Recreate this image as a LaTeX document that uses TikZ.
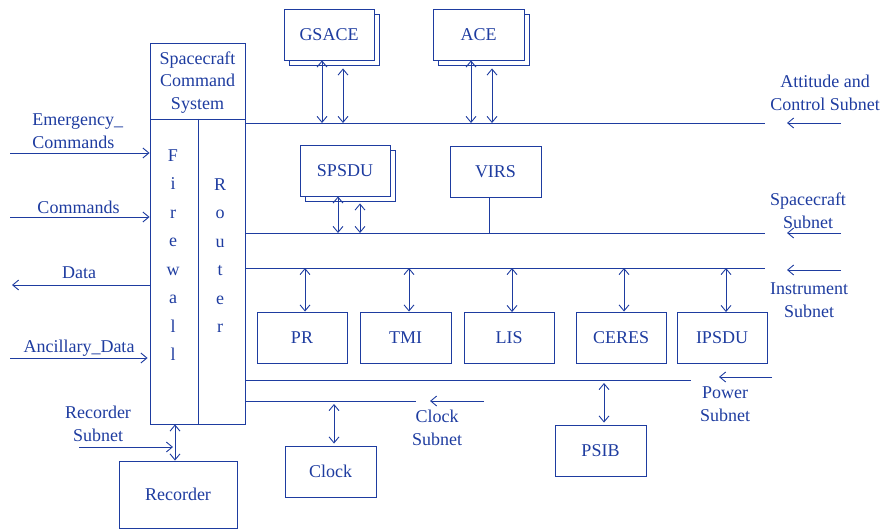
\documentclass[tikz,border=0pt]{standalone}
\usepackage{fontspec}
\setmainfont{Liberation Serif}
\usetikzlibrary{arrows.meta}
\definecolor{mblue}{RGB}{30,60,160}
\tikzset{
  >={Straight Barb[length=6pt,width=10pt]},
  txt/.style={text=mblue, font=\fontsize{18}{22.5}\selectfont, inner sep=0pt, align=center},
  box/.style={draw=mblue, line width=0.9pt, fill=white, text=mblue, font=\fontsize{18}{22.5}\selectfont, minimum width=90pt, minimum height=51pt, inner sep=0pt},
  letters/.style={text=mblue, font=\fontsize{18}{28.5}\selectfont, inner sep=0pt, align=center}
}
\begin{document}
\begin{tikzpicture}[x=1pt,y=-1pt,color=mblue,line width=0.9pt]
\useasboundingbox (0,0) rectangle (885,529);
% command system
\node[draw=mblue, line width=0.9pt, minimum width=95pt, minimum height=381pt, inner sep=0pt] (scs) at (197.5,233.5) {};
\coordinate (divL) at (150,119);
\coordinate (divR) at (245,119);
\coordinate (midT) at (198,119);
\coordinate (midB) at (198,424);
\draw (divL) -- (divR);
\draw (midT) -- (midB);
\node[txt] (scstitle) at (197.5,82.5) {Spacecraft\\Command\\System};
\node[letters] (fw) at (173,255) {F\\i\\r\\e\\w\\a\\l\\l};
\node[letters] (rt) at (220,255.5) {R\\o\\u\\t\\e\\r};

% left side inputs
\coordinate (emS) at (10,153);
\coordinate (cmS) at (10,217);
\coordinate (daE) at (12,285);
\coordinate (anS) at (10,358);
\draw[->] (emS) -- (emS -| scs.west);
\draw[->] (cmS) -- (cmS -| scs.west);
\draw[->] (daE -| scs.west) -- (daE);
\draw[->] (anS) -- ([xshift=-2pt]anS -| scs.west);
\node[txt, align=left, anchor=west] (emL) at (32,131) {Emergency\_\\Commands};
\node[txt] (cmL) at (78.5,207) {Commands};
\node[txt] (daL) at (79,273) {Data};
\node[txt] (anL) at (79,348) {Ancillary\_Data};

% recorder
\node[box, minimum width=118pt, minimum height=67pt] (rec) at (178,494.5) {Recorder};
\draw[<->] (scs.south -| 175,0) -- (rec.north -| 175,0);
\coordinate (recS) at (79,447);
\draw[->] (recS) -- (173,447);
\node[txt] (recL) at (98,424) {Recorder\\Subnet};

% buses
\coordinate (acA) at (245,123); \coordinate (acB) at (765,123);
\coordinate (scA) at (245,233); \coordinate (scB) at (765,233);
\coordinate (inA) at (245,268); \coordinate (inB) at (765,268);
\coordinate (pwA) at (245,380); \coordinate (pwB) at (691,380);
\coordinate (ckA) at (245,401); \coordinate (ckB) at (416,401);
\draw (acA) -- (acB);
\draw (scA) -- (scB);
\draw (inA) -- (inB);
\draw (pwA) -- (pwB);
\draw (ckA) -- (ckB);

% subnet incoming arrows
\coordinate (acIn) at (841,123); \coordinate (acTo) at (787,123);
\coordinate (scIn) at (841,233); \coordinate (scTo) at (787,233);
\coordinate (inIn) at (841,270); \coordinate (inTo) at (787,270);
\coordinate (pwIn) at (772,377); \coordinate (pwTo) at (719,377);
\coordinate (ckIn) at (484,401); \coordinate (ckTo) at (430,401);
\draw[->] (acIn) -- (acTo);
\draw[->] (scIn) -- (scTo);
\draw[->] (inIn) -- (inTo);
\draw[->] (pwIn) -- (pwTo);
\draw[->] (ckIn) -- (ckTo);
\node[txt] (acL) at (825,93) {Attitude and\\Control Subnet};
\node[txt] (scL) at (808,211) {Spacecraft\\Subnet};
\node[txt] (inL) at (809,300) {Instrument\\Subnet};
\node[txt] (pwL) at (725,404) {Power\\Subnet};
\node[txt] (ckL) at (437,428) {Clock\\Subnet};

% GSACE
\node[box] (gsaceb) at (334,39.5) {};
\node[box] (gsace) at (329,34.5) {GSACE};
\draw[<->] ([xshift=-7pt]gsace.south) -- ([xshift=-7pt]gsace.south |- acA);
\draw[<->] ([xshift=9pt,yshift=-3pt]gsaceb.south) -- ([xshift=9pt]gsaceb.south |- acA);
% ACE
\node[box, minimum width=91pt] (aceb) at (483.5,39.5) {};
\node[box, minimum width=91pt] (ace) at (478.5,34.5) {ACE};
\draw[<->] ([xshift=-7.5pt]ace.south) -- ([xshift=-7.5pt]ace.south |- acA);
\draw[<->] ([xshift=8.5pt,yshift=-3pt]aceb.south) -- ([xshift=8.5pt]aceb.south |- acA);
% SPSDU
\node[box] (spsdub) at (350,175.5) {};
\node[box] (spsdu) at (345,170.5) {SPSDU};
\draw[<->] ([xshift=-7pt]spsdu.south) -- ([xshift=-7pt]spsdu.south |- scA);
\draw[<->] ([xshift=10pt,yshift=-2pt]spsdub.south) -- ([xshift=10pt]spsdub.south |- scA);
% VIRS
\node[box, minimum width=91pt] (virs) at (495.5,171.5) {VIRS};
\draw ([xshift=-6.5pt]virs.south) -- ([xshift=-6.5pt]virs.south |- scA);

% instruments
\node[box] (pr) at (302,337.5) {PR};
\node[box, minimum width=91pt] (tmi) at (405.5,337.5) {TMI};
\node[box] (lis) at (509,338) {LIS};
\node[box] (ceres) at (621,337.5) {CERES};
\node[box] (ipsdu) at (722,338) {IPSDU};
\draw[<->] ([xshift=3pt]pr.north |- inA) -- ([xshift=3pt]pr.north);
\draw[<->] ([xshift=3.5pt]tmi.north |- inA) -- ([xshift=3.5pt]tmi.north);
\draw[<->] ([xshift=3pt]lis.north |- inA) -- ([xshift=3pt]lis.north);
\draw[<->] ([xshift=3pt]ceres.north |- inA) -- ([xshift=3pt]ceres.north);
\draw[<->] ([xshift=4pt]ipsdu.north |- inA) -- ([xshift=4pt]ipsdu.north);

% clock and PSIB
\node[box, minimum width=91pt] (clock) at (330.5,471.5) {Clock};
\node[box, minimum width=91pt] (psib) at (600.5,450.5) {PSIB};
\draw[<->] ([xshift=3.5pt,yshift=-3pt]clock.north |- ckA) -- ([xshift=3.5pt,yshift=2pt]clock.north);
\draw[<->] ([xshift=3.5pt,yshift=-3pt]psib.north |- pwA) -- ([xshift=3.5pt,yshift=2pt]psib.north);
\end{tikzpicture}
\end{document}
